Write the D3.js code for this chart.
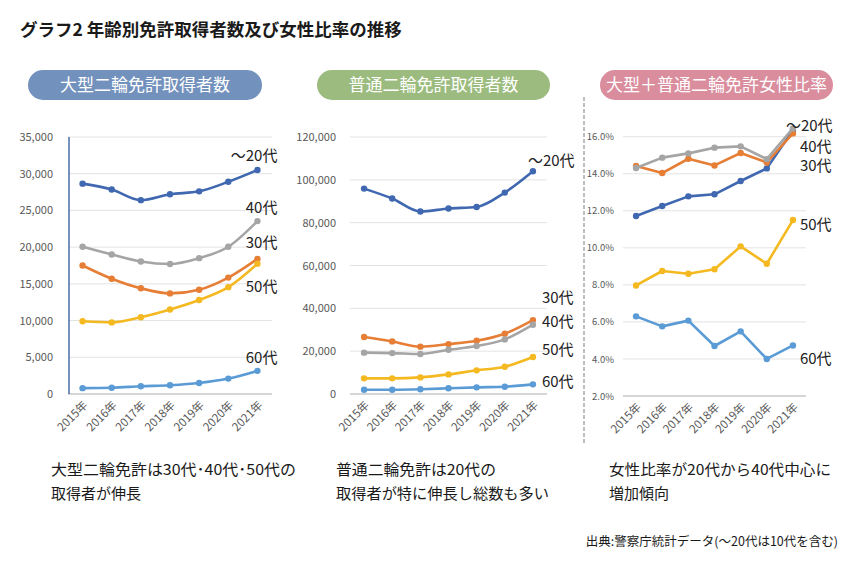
<!DOCTYPE html>
<html>
<head>
<meta charset="utf-8">
<script src="https://cdn.jsdelivr.net/npm/d3@7"></script>
<style>
  html, body { margin: 0; padding: 0; background: #fff; }
  svg { display: block; }
  text { font-family: "Noto Sans CJK JP", "Noto Sans", sans-serif; }
</style>
</head>
<body>
<svg id="chart" width="863" height="565"></svg>
<script>
// ---------- DATA ----------
const years = ['2015年', '2016年', '2017年', '2018年', '2019年', '2020年', '2021年'];
const ageGroups = ['～20代', '30代', '40代', '50代', '60代'];

// 大型二輪免許取得者数
const largeUnder20 = [28650, 27850, 26400, 27200, 27600, 28900, 30500];
const large30 = [17500, 15700, 14400, 13700, 14200, 15850, 18400];
const large40 = [20050, 19000, 18050, 17700, 18500, 20050, 23550];
const large50 = [9900, 9750, 10450, 11500, 12800, 14550, 17750];
const large60 = [800, 850, 1050, 1200, 1500, 2100, 3150];

// 普通二輪免許取得者数
const normalUnder20 = [95900, 91250, 85200, 86600, 87350, 94050, 104000];
const normal30 = [26600, 24550, 22100, 23300, 24850, 28150, 34500];
const normal40 = [19300, 19100, 18650, 20650, 22400, 25500, 32350];
const normal50 = [7300, 7300, 7750, 9150, 11050, 12750, 17250];
const normal60 = [2000, 2000, 2200, 2650, 3100, 3400, 4500];

// 大型＋普通二輪免許 女性比率 (%)
const femaleUnder20 = [11.72, 12.26, 12.78, 12.89, 13.61, 14.29, 16.35];
const female30 = [14.42, 14.04, 14.81, 14.45, 15.12, 14.61, 16.18];
const female40 = [14.31, 14.87, 15.10, 15.41, 15.48, 14.79, 16.45];
const female50 = [7.97, 8.75, 8.60, 8.84, 10.08, 9.14, 11.50];
const female60 = [6.30, 5.76, 6.07, 4.70, 5.49, 4.00, 4.73];

const largeTicks = [0, 5000, 10000, 15000, 20000, 25000, 30000, 35000];
const normalTicks = [0, 20000, 40000, 60000, 80000, 100000, 120000];
const femaleTicks = [2, 4, 6, 8, 10, 12, 14, 16];

const titleText = 'グラフ2 年齢別免許取得者数及び女性比率の推移';
const pillTexts = ['大型二輪免許取得者数', '普通二輪免許取得者数', '大型＋普通二輪免許女性比率'];
const captions = [
  ['大型二輪免許は30代･40代･50代の', '取得者が伸長'],
  ['普通二輪免許は20代の', '取得者が特に伸長し総数も多い'],
  ['女性比率が20代から40代中心に', '増加傾向']
];
const sourceText = '出典:警察庁統計データ(～20代は10代を含む)';

// ---------- STYLE ----------
const seriesColors = ['#4068b0', '#e67e36', '#a5a5a5', '#f4b920', '#5b9bd5'];
const pillColors = ['#7391bd', '#9bbc7e', '#d98d9d'];

const svg = d3.select('#chart');

// Title
svg.append('text').attr('x', 20).attr('y', 36)
  .attr('font-size', 17.5).attr('font-weight', 700).attr('fill', '#1a1a1a')
  .text(titleText);

// Pills
const pills = [
  {x: 28, w: 234}, {x: 317, w: 233}, {x: 600, w: 233}
];
pills.forEach((p, i) => {
  svg.append('rect').attr('x', p.x).attr('y', 70).attr('width', p.w).attr('height', 30)
    .attr('rx', 15).attr('fill', pillColors[i]);
  svg.append('text').attr('x', p.x + p.w / 2).attr('y', 91)
    .attr('text-anchor', 'middle').attr('font-size', 17).attr('fill', '#fff')
    .text(pillTexts[i]);
});

// Divider
svg.append('line').attr('x1', 584).attr('x2', 584).attr('y1', 97).attr('y2', 443)
  .attr('stroke', '#bdbdbd').attr('stroke-width', 2).attr('stroke-dasharray', '4,2');

// ---------- PANELS ----------
function panel(cfg) {
  const g = svg.append('g');
  const x = d3.scalePoint().domain(years).range([cfg.x0, cfg.x1]).padding(0.5);
  const y = d3.scaleLinear().domain(cfg.domain).range([cfg.yBottom, cfg.yTop]);

  // gridlines
  g.append('g').selectAll('line').data(cfg.ticks.filter(t => t !== cfg.domain[0]))
    .join('line')
    .attr('x1', cfg.x0).attr('x2', cfg.x1)
    .attr('y1', d => y(d)).attr('y2', d => y(d))
    .attr('stroke', '#e3e3e3').attr('stroke-width', 1);

  // baseline
  g.append('line').attr('x1', cfg.x0).attr('x2', cfg.x1)
    .attr('y1', y(cfg.domain[0])).attr('y2', y(cfg.domain[0]))
    .attr('stroke', '#c8c8c8').attr('stroke-width', 1.3);

  // y axis
  const yAxis = d3.axisLeft(y).tickValues(cfg.ticks).tickFormat(cfg.fmt).tickSize(0).tickPadding(0);
  const ya = g.append('g').attr('transform', `translate(${cfg.labelX},0)`).call(yAxis);
  ya.select('.domain').remove();
  ya.selectAll('text').attr('font-family', '"Liberation Sans", Arial, sans-serif')
    .attr('font-size', cfg.yFont).attr('fill', '#595959');

  if (cfg.axisLine) {
    g.append('line').attr('x1', cfg.x0 + 1).attr('x2', cfg.x0 + 1)
      .attr('y1', cfg.yTop).attr('y2', y(cfg.domain[0]))
      .attr('stroke', cfg.axisLine).attr('stroke-width', 1.5);
  }

  // x labels
  const base = y(cfg.domain[0]);
  g.append('g').selectAll('text').data(years).join('text')
    .attr('transform', d => `translate(${x(d) + 3},${base + 9}) rotate(-45)`)
    .attr('text-anchor', 'end').attr('dy', '0.35em')
    .attr('font-size', 11.5).attr('fill', '#595959')
    .text(d => d);

  // lines
  const line = d3.line().x((d, i) => x(years[i])).y(d => y(d)).curve(cfg.curve || d3.curveLinear);
  cfg.series.forEach((s, k) => {
    g.append('path').datum(s).attr('d', line).attr('fill', 'none')
      .attr('stroke', seriesColors[k]).attr('stroke-width', 2.6)
      .attr('stroke-linejoin', 'round').attr('stroke-linecap', 'round');
    g.append('g').selectAll('circle').data(s).join('circle')
      .attr('cx', (d, i) => x(years[i])).attr('cy', d => y(d)).attr('r', 3.2)
      .attr('fill', seriesColors[k]);
  });

  // series labels
  cfg.labels.forEach((lb, k) => {
    const last = cfg.series[k][cfg.series[k].length - 1];
    g.append('text')
      .attr('x', x(years[years.length - 1]) + lb.dx)
      .attr('y', y(last) + lb.dy)
      .attr('text-anchor', lb.anchor).attr('dy', '0.35em')
      .attr('font-size', 15).attr('fill', '#222')
      .text(ageGroups[k]);
  });
}

panel({
  x0: 68, x1: 272, yTop: 137, yBottom: 394, domain: [0, 35000],
  ticks: largeTicks, fmt: d3.format(','), labelX: 53, yFont: 11, axisLine: '#4a6eaa',
  series: [largeUnder20, large30, large40, large50, large60],
  curve: d3.curveMonotoneX,
  labels: [
    {dx: 20, dy: -14, anchor: 'end'},
    {dx: 20, dy: -16, anchor: 'end'},
    {dx: 20, dy: -13, anchor: 'end'},
    {dx: 20, dy: 23, anchor: 'end'},
    {dx: 20, dy: -13, anchor: 'end'}
  ]
});

panel({
  x0: 350, x1: 547, yTop: 137, yBottom: 394, domain: [0, 120000],
  ticks: normalTicks, fmt: d3.format(','), labelX: 336, yFont: 11, axisLine: null,
  series: [normalUnder20, normal30, normal40, normal50, normal60],
  curve: d3.curveMonotoneX,
  labels: [
    {dx: -5, dy: -11, anchor: 'start'},
    {dx: 9, dy: -22, anchor: 'start'},
    {dx: 9, dy: -3, anchor: 'start'},
    {dx: 9, dy: -7, anchor: 'start'},
    {dx: 9, dy: -3, anchor: 'start'}
  ]
});

panel({
  x0: 623, x1: 806, yTop: 118.2, yBottom: 396, domain: [2, 17],
  ticks: femaleTicks, fmt: d => d3.format('.1f')(d) + '%', labelX: 614, yFont: 9.5, axisLine: null,
  series: [femaleUnder20, female30, female40, female50, female60],
  labels: [
    {dx: -7, dy: -4.5, anchor: 'start'},
    {dx: 7, dy: 32.5, anchor: 'start'},
    {dx: 7, dy: 18.5, anchor: 'start'},
    {dx: 7, dy: 5, anchor: 'start'},
    {dx: 7, dy: 13.5, anchor: 'start'}
  ]
});

// Captions
const capX = [51, 336, 609];
const capW = [[245, null], [160, 213], [222, null]];
captions.forEach((lines, i) => {
  lines.forEach((t, j) => {
    const tx = svg.append('text').attr('x', capX[i]).attr('y', 475 + j * 23.5)
      .attr('font-size', 15).attr('fill', '#1a1a1a').text(t);
    if (capW[i][j]) tx.attr('textLength', capW[i][j]).attr('lengthAdjust', 'spacingAndGlyphs');
  });
});

svg.append('text').attr('x', 838).attr('y', 546).attr('text-anchor', 'end')
  .attr('font-size', 12.5).attr('fill', '#1a1a1a').text(sourceText);
</script>
</body>
</html>
